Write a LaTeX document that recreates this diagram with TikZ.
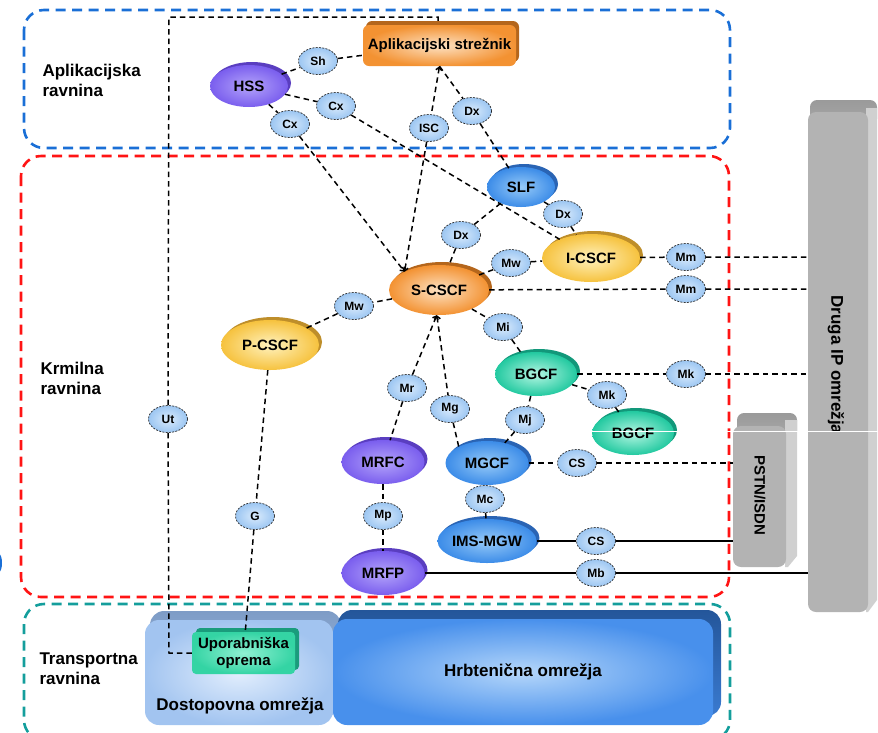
\documentclass[tikz,border=0pt]{standalone}
\usepackage{fontspec}
\setmainfont{Liberation Sans}
\usetikzlibrary{shapes.geometric,shadows,arrows.meta}

% plane borders
\definecolor{planeblue}{HTML}{1A6FD6}
\definecolor{planered}{HTML}{FF1414}
\definecolor{planeteal}{HTML}{149E9C}
% network element fills (mid, light centre, dark rim)
\definecolor{purM}{HTML}{7A5EEE}
\definecolor{purL}{HTML}{B4A4FA}
\definecolor{purD}{HTML}{5A3EC0}
\definecolor{bluM}{HTML}{3C8CE8}
\definecolor{bluL}{HTML}{96CAF8}
\definecolor{bluD}{HTML}{2A64B4}
\definecolor{orM}{HTML}{F39232}
\definecolor{orL}{HTML}{FDE2C4}
\definecolor{orD}{HTML}{B4661C}
\definecolor{yeM}{HTML}{F6C23E}
\definecolor{yeL}{HTML}{FFF2BE}
\definecolor{yeD}{HTML}{BE8E2A}
\definecolor{teM}{HTML}{22C9A0}
\definecolor{teL}{HTML}{B4F6E2}
\definecolor{teD}{HTML}{12987A}
\definecolor{ifM}{HTML}{9CC6F2}
\definecolor{ifL}{HTML}{DAEBFC}
\definecolor{ueM}{HTML}{34D4A4}
\definecolor{ueL}{HTML}{90F0D2}
\definecolor{ueD}{HTML}{1A9C7C}
% gray side networks
\definecolor{grayM}{HTML}{B3B3B3}
\definecolor{grayR}{HTML}{D0D0D0}
\definecolor{grayT}{HTML}{9A9A9A}
\definecolor{grayB}{HTML}{A8A8A8}
% transport networks
\definecolor{accTop}{HTML}{7E9CC6}
\definecolor{accBot}{HTML}{A8C6EE}
\definecolor{accIn}{HTML}{E2EEFD}
\definecolor{accOut}{HTML}{A2C4F0}
\definecolor{coreTop}{HTML}{24569A}
\definecolor{coreBot}{HTML}{3A7AD0}
\definecolor{coreIn}{HTML}{B4D6FA}
\definecolor{coreOut}{HTML}{4890EC}

\begin{document}
\begin{tikzpicture}[x=1pt,y=-1pt,
  every node/.style={font=\bfseries},
  netel/.style={ellipse, inner sep=0pt, font=\fontsize{15}{18}\selectfont\bfseries},
  purplenode/.style={netel, shade, inner color=purL, outer color=purM,
    general shadow={fill=purD, shadow xshift=3pt, shadow yshift=3pt}},
  bluenode/.style={netel, shade, inner color=bluL, outer color=bluM,
    general shadow={fill=bluD, shadow xshift=3pt, shadow yshift=3pt}},
  orangenode/.style={netel, shade, inner color=orL, outer color=orM,
    general shadow={fill=orD, shadow xshift=3pt, shadow yshift=3pt}},
  yellownode/.style={netel, shade, inner color=yeL, outer color=yeM,
    general shadow={fill=yeD, shadow xshift=3pt, shadow yshift=3pt}},
  tealnode/.style={netel, shade, inner color=teL, outer color=teM,
    general shadow={fill=teD, shadow xshift=3pt, shadow yshift=3pt}},
  asbox/.style={rectangle, rounded corners=6pt, minimum width=153pt, minimum height=41pt,
    inner sep=0pt, shade, inner color=orL, outer color=orM,
    general shadow={fill=orD, shadow xshift=3pt, shadow yshift=4pt},
    font=\fontsize{15}{18}\selectfont\bfseries},
  uebox/.style={rectangle, rounded corners=4pt, minimum width=103pt, minimum height=42pt,
    inner sep=0pt, align=center, shade, inner color=ueL, outer color=ueM,
    general shadow={fill=ueD, shadow xshift=4pt, shadow yshift=4pt},
    font=\fontsize{15}{17}\selectfont\bfseries},
  iface/.style={ellipse, inner sep=0pt, minimum width=39pt, minimum height=27pt,
    draw=black!85, line width=0.7pt, dash pattern=on 2pt off 1.3pt,
    shade, inner color=ifL, outer color=ifM,
    font=\fontsize{12}{14}\selectfont\bfseries},
  link/.style={line width=1.5pt, dash pattern=on 5.5pt off 4pt},
  wire/.style={line width=1.6pt},
  arrowend/.style={-{Straight Barb[length=3pt,width=6pt]}},
  arrowstart/.style={{Straight Barb[length=3pt,width=6pt]}-},
  plane/.style={line width=2.6pt, dash pattern=on 10pt off 6.5pt, rounded corners=20pt},
  planelabel/.style={anchor=west, align=left, font=\fontsize{17}{20}\selectfont\bfseries},
  sidelabel/.style={rotate=-90, font=\fontsize{#1}{#1}\selectfont\bfseries},
]
\useasboundingbox (0,0) rectangle (878,732);
\clip (0,0) rectangle (878,732);

% ---------- planes ----------
\draw[plane, planeblue] (24,10) rectangle (730,148);
\draw[plane, planered] (21,156) rectangle (729,597);
\draw[plane, planeteal] (24,604) rectangle (730,740);
\fill[planeblue] (-1,563) ellipse [x radius=3pt, y radius=9pt];

\node[planelabel] (lapp) at (39,80) {Aplikacijska\\ravnina};
\node[planelabel] (lctl) at (37,378) {Krmilna\\ravnina};
\node[planelabel] (ltr) at (36,669) {Transportna\\ravnina};

% ---------- other IP networks ----------
\shade[top color=grayT, bottom color=grayB, rounded corners=7pt] (810,100) rectangle (877,126);
\fill[grayR] (866,108) -- (877,108) -- (877,600) -- (868,612) -- (866,612) -- cycle;
\fill[grayM, rounded corners=8pt] (808,112) rectangle (868,612);
\begin{scope}
  \clip (800,280) rectangle (878,431);
  \node[sidelabel=17] (ipname) at (836,365) {Druga IP omrežja};
\end{scope}

% ---------- PSTN/ISDN ----------
\shade[top color=grayT, bottom color=grayB, rounded corners=7pt] (737,413) rectangle (797,438);
\fill[grayR] (785,420) -- (797,420) -- (797,556) -- (788,567) -- (785,567) -- cycle;
\fill[grayM, rounded corners=8pt] (733,426) rectangle (786,567);
\node[sidelabel=15] (pstn) at (760,495) {PSTN/ISDN};

% ---------- transport networks ----------
\shade[top color=accTop, bottom color=accBot, rounded corners=14pt] (150,611) rectangle (341,716);
\shade[inner color=accIn, outer color=accOut, rounded corners=14pt] (145,620) rectangle (333,725);
\node[font=\fontsize{17}{20}\selectfont\bfseries] (acc) at (240,706) {Dostopovna omrežja};

\shade[top color=coreTop, bottom color=coreBot, rounded corners=14pt] (338,610) rectangle (721,716);
\shade[inner color=coreIn, outer color=coreOut, rounded corners=14pt] (333,619) rectangle (713,725);
\node[font=\fontsize{17}{20}\selectfont\bfseries] (core) at (523,672) {Hrbtenična omrežja};

% ---------- network elements ----------
\node[asbox] (as) at (439.5,45.5) {Aplikacijski strežnik};
\node[purplenode, minimum width=78pt, minimum height=42pt] (hss) at (249,86) {HSS};
\node[bluenode, minimum width=68pt, minimum height=40pt] (slf) at (521,187) {SLF};
\node[yellownode, minimum width=98pt, minimum height=48pt] (icscf) at (591,258) {I-CSCF};
\node[orangenode, minimum width=100pt, minimum height=50pt] (scscf) at (439,290) {S-CSCF};
\node[yellownode, minimum width=98pt, minimum height=50pt] (pcscf) at (270,345) {P-CSCF};
\node[tealnode, minimum width=82pt, minimum height=44pt] (bgcf) at (536,374) {BGCF};
\node[tealnode, minimum width=82pt, minimum height=44pt] (bgcfb) at (633,433) {BGCF};
\node[purplenode, minimum width=83pt, minimum height=44pt] (mrfc) at (383,462) {MRFC};
\node[bluenode, minimum width=83pt, minimum height=44pt] (mgcf) at (487,463) {MGCF};
\node[bluenode, minimum width=83pt, minimum height=44pt] (imsmgw) at (487,541) {IMS-MGW};
\node[purplenode, minimum width=83pt, minimum height=44pt] (mrfp) at (383,573) {MRFP};
\node[uebox] (ue) at (243.5,653) {Uporabniška\\oprema};

% ---------- reference points ----------
\node[iface] (sh) at (318,61) {Sh};
\node[iface] (cxa) at (336,106) {Cx};
\node[iface] (cxb) at (290,124) {Cx};
\node[iface] (isc) at (429,128) {ISC};
\node[iface] (dxa) at (472,111) {Dx};
\node[iface] (dxb) at (563,214) {Dx};
\node[iface] (dxc) at (461,235) {Dx};
\node[iface] (mwa) at (511,263) {Mw};
\node[iface] (mma) at (686,257) {Mm};
\node[iface] (mmb) at (686,289) {Mm};
\node[iface] (mwb) at (354,306) {Mw};
\node[iface] (mi) at (503,327) {Mi};
\node[iface] (mka) at (686,374) {Mk};
\node[iface] (mkb) at (607,395) {Mk};
\node[iface] (mr) at (407,388) {Mr};
\node[iface] (mg) at (450,409) {Mg};
\node[iface] (mj) at (525,420) {Mj};
\node[iface] (csa) at (577,463) {CS};
\node[iface] (mc) at (485,499) {Mc};
\node[iface] (mp) at (383,516) {Mp};
\node[iface] (csb) at (596,541) {CS};
\node[iface] (mb) at (596,573) {Mb};
\node[iface] (g) at (255,516) {G};
\node[iface] (ut) at (168,419) {Ut};

% free ends on the neighbouring networks and the Ut route
\coordinate (ipa) at (808,257);
\coordinate (ipb) at (808,289);
\coordinate (ipc) at (808,374);
\coordinate (ipd) at (808,573);
\coordinate (psa) at (733,463);
\coordinate (psb) at (733,541);
\coordinate (utA) at (169,653);
\coordinate (utB) at (169,17);
\coordinate (utC) at (438,17);
\coordinate (utD) at (438,21);

% ---------- interfaces ----------
\draw[link] (hss) -- (sh) -- (as);
\draw[link] (hss) -- (cxa) -- (icscf);
\draw[link] (hss) -- (cxb);
\draw[link, arrowend] (cxb) -- (scscf.152);
\draw[link, arrowstart] (as.south) -- (isc);
\draw[link, arrowend] (isc) -- (scscf.152);
\draw[link] (as.south) -- (dxa) -- (slf);
\draw[link] (slf) -- (dxb) -- (icscf);
\draw[link] (slf) -- (dxc) -- (scscf);
\draw[link] (scscf) -- (mwa) -- (icscf);
\draw[link] (icscf) -- (mma) -- (ipa);
\draw[link] (scscf) -- (mmb) -- (ipb);
\draw[link] (scscf) -- (mwb) -- (pcscf);
\draw[link] (scscf) -- (mi) -- (bgcf);
\draw[link] (bgcf) -- (mka) -- (ipc);
\draw[link] (bgcf) -- (mkb) -- (bgcfb);
\draw[link] (bgcf) -- (mj) -- (mgcf);
\draw[link, arrowstart] (scscf.-95) -- (mr);
\draw[link] (mr) -- (mrfc);
\draw[link, arrowstart] (scscf.-95) -- (mg);
\draw[link] (mg) -- (mgcf.150);
\draw[link] (mgcf) -- (csa) -- (psa);
\draw[link] (mgcf) -- (mc) -- (imsmgw);
\draw[link] (mrfc) -- (mp) -- (mrfp);
\draw[wire] (imsmgw) -- (csb) -- (psb);
\draw[wire] (mrfp) -- (mb) -- (ipd);
\draw[link] (pcscf) -- (g) -- (ue);
\draw[link] (ue.west) -- (utA) -- (ut) -- (utB) -- (utC) -- (utD);

% thin light seam across the lower right
\draw[white, line width=0.8pt] (590,431) -- (878,431);
\end{tikzpicture}
\end{document}
